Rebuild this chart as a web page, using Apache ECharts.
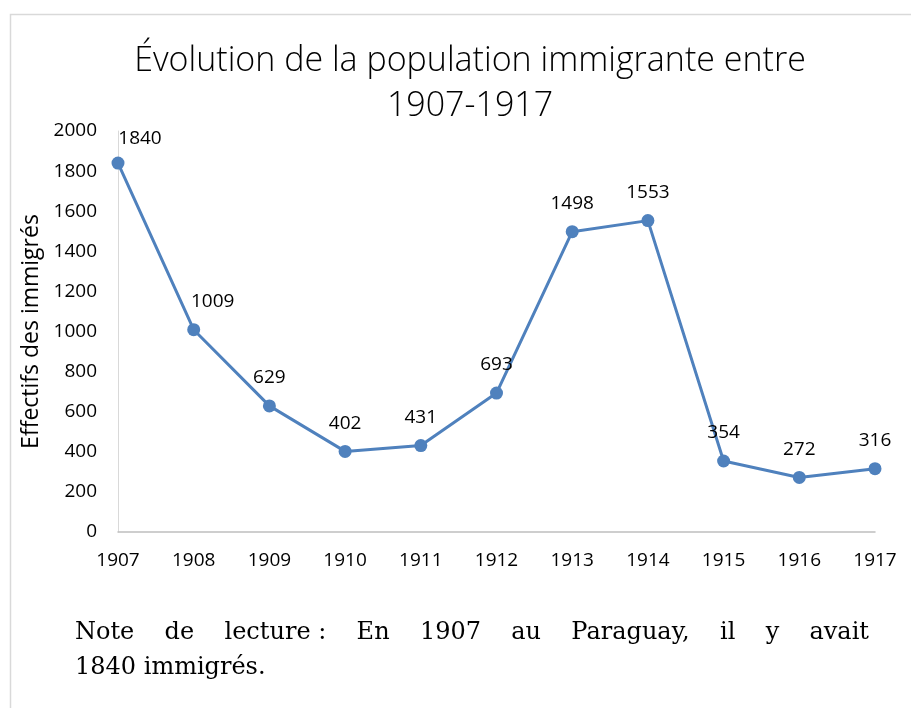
<!DOCTYPE html>
<html><head><meta charset="utf-8">
<script src="https://cdn.jsdelivr.net/npm/echarts@6/dist/echarts.min.js"></script>
<style>html,body{margin:0;padding:0;background:#fff}#c{width:911px;height:708px}</style>
</head><body><div id="c"></div>
<script>
const years = ['1907','1908','1909','1910','1911','1912','1913','1914','1915','1916','1917'];
const immigrants = [1840,1009,629,402,431,693,1498,1553,354,272,316];
const yTicks = [0,200,400,600,800,1000,1200,1400,1600,1800,2000];
const titleText = 'Évolution de la population immigrante entre\n1907-1917';
const yName = 'Effectifs des immigrés';
const xName = 'Années';
const noteWords = ['Note','de','lecture :','En','1907','au','Paraguay,','il','y','avait'];
const noteLine2 = '1840 immigrés.';

const labelOffsets = {0:[22,4],1:[19,0]};
const seriesData = immigrants.map((v,i)=> labelOffsets[i] ? {value:v,label:{offset:labelOffsets[i]}} : v);

// justified first line of note
const noteX0 = 75, noteX1 = 869;
const ctxc = document.createElement('canvas').getContext('2d');
const noteFont = '24px "DejaVu Serif", "Liberation Serif", serif';
ctxc.font = noteFont;
const widths = noteWords.map(w=>ctxc.measureText(w).width);
const totalW = widths.reduce((a,b)=>a+b,0);
const gap = (noteX1-noteX0-totalW)/(noteWords.length-1);
let cx = noteX0;
const noteGraphics = noteWords.map((w,i)=>{
  const g = {type:'text', left:cx, top:621, z:200, style:{text:w, font:noteFont, fill:'#000'}};
  cx += widths[i]+gap;
  return g;
});

const chart = echarts.init(document.getElementById('c'));
chart.setOption({
  backgroundColor:'#fff',
  animation:false,
  textStyle:{fontFamily:'"Open Sans", "Noto Sans", sans-serif'},
  title:{
    text:titleText, left:465, textAlign:'center', top:34,
    textStyle:{fontFamily:'"Open Sans", "Noto Sans", sans-serif', fontWeight:300, fontSize:34, lineHeight:45, color:'#000'}
  },
  grid:{left:118, right:36, top:131, bottom:176, containLabel:false},
  xAxis:{
    type:'category', data:years, boundaryGap:false,
    name:xName, nameLocation:'middle', nameGap:68,
    nameTextStyle:{fontSize:21, color:'#000'},
    axisLine:{lineStyle:{color:'#bfbfbf', width:1.5}},
    axisTick:{show:false},
    axisLabel:{color:'#000', fontSize:19, margin:19}
  },
  yAxis:{
    type:'value', min:0, max:2000, interval:200,
    name:yName, nameLocation:'middle', nameGap:74, nameRotate:90,
    nameTextStyle:{fontSize:23, color:'#000'},
    axisLine:{show:true, lineStyle:{color:'#d9d9d9', width:1}},
    axisTick:{show:false},
    splitLine:{show:false},
    axisLabel:{color:'#000', fontSize:19, margin:21,
      formatter:v=> yTicks.includes(v) ? String(v) : ''}
  },
  series:[{
    type:'line', data:seriesData,
    symbol:'circle', symbolSize:13,
    lineStyle:{color:'#4f81bd', width:3},
    itemStyle:{color:'#4f81bd'},
    label:{show:true, position:'top', distance:12, color:'#000', fontSize:19}
  }],
  graphic:[
    {type:'rect', shape:{x:10.5, y:14.5, width:920, height:720}, style:{fill:'none', stroke:'#d9d9d9', lineWidth:1.5}, z:1, silent:true},
    {type:'rect', shape:{x:12, y:597, width:899, height:111}, style:{fill:'#fff'}, z:150, silent:true},
    ...noteGraphics,
    {type:'text', left:noteX0, top:656, z:200, style:{text:noteLine2, font:noteFont, fill:'#000'}}
  ]
});
</script></body></html>
